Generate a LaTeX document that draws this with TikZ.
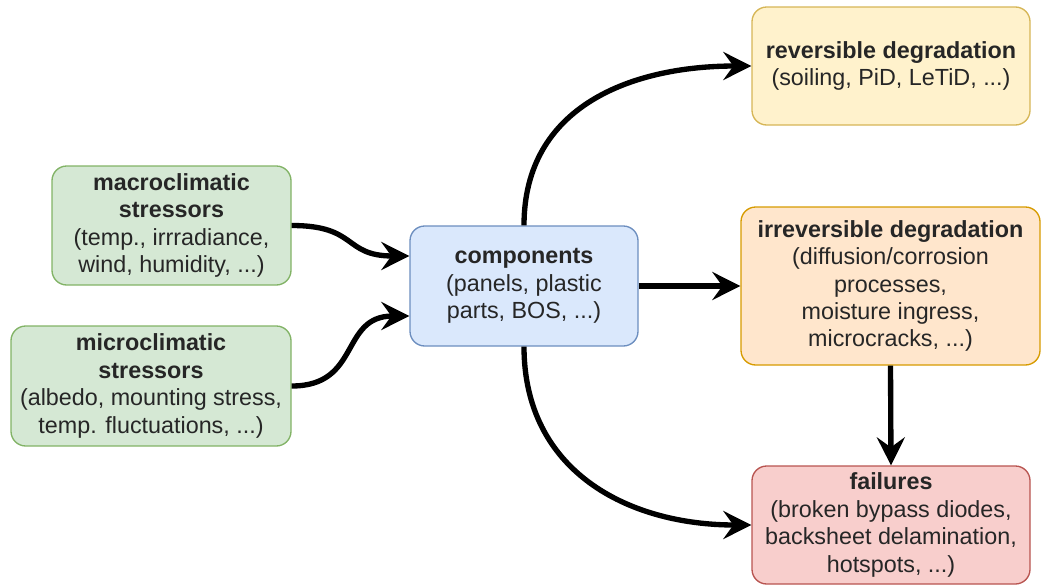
\documentclass[tikz,border=0pt]{standalone}
\usepackage{fontspec}
\setmainfont{Liberation Sans}
\usetikzlibrary{arrows.meta}

\definecolor{greenfill}{HTML}{D5E8D4}
\definecolor{greenline}{HTML}{82B366}
\definecolor{bluefill}{HTML}{DAE8FC}
\definecolor{blueline}{HTML}{6C8EBF}
\definecolor{yellowfill}{HTML}{FFF2CC}
\definecolor{yellowline}{HTML}{D6B656}
\definecolor{orangefill}{HTML}{FFE6CC}
\definecolor{orangeline}{HTML}{D79B00}
\definecolor{redfill}{HTML}{F8CECC}
\definecolor{redline}{HTML}{B85450}
\definecolor{textgray}{HTML}{262626}

\tikzset{every picture/.style={line width=0.75pt}}
\tikzset{
  box/.style={rounded corners=11pt, line width=1pt, align=center, inner sep=0pt,
    font=\fontsize{17.5}{20.6}\selectfont, text=textgray},
  conn/.style={line width=4pt, -{Stealth[length=21pt,width=21pt,inset=7.5pt]}},
}

\begin{document}
\begin{tikzpicture}[x=0.75pt,y=0.75pt,yscale=-1,xscale=1]
\useasboundingbox (0,0) rectangle (1045,586);

% Text Node
\node[box, draw=greenline, fill=greenfill, minimum width=179.25pt, minimum height=89.25pt] (macro) at (171.5,225.5)
  {\textbf{macroclimatic}\\\textbf{stressors}\\(temp., irrradiance,\\wind, humidity, ...)};
% Text Node
\node[box, draw=greenline, fill=greenfill, minimum width=210pt, minimum height=90pt] (micro) at (151,386)
  {\textbf{microclimatic}\\\textbf{stressors}\\(albedo, mounting stress,\\temp. fluctuations, ...)};
% Text Node
\node[box, draw=blueline, fill=bluefill, minimum width=171pt, minimum height=90pt] (comp) at (524,286)
  {\textbf{components}\\(panels, plastic\\parts, BOS, ...)};
% Text Node
\node[box, draw=yellowline, fill=yellowfill, minimum width=208.5pt, minimum height=88.5pt] (rev) at (891,66)
  {\textbf{reversible degradation}\\(soiling, PiD, LeTiD, ...)};
% Text Node
\node[box, draw=orangeline, fill=orangefill, minimum width=224.25pt, minimum height=118.5pt] (irrev) at (890.5,286)
  {\textbf{irreversible degradation}\\(diffusion/corrosion\\processes,\\moisture ingress,\\microcracks, ...)};
% Text Node
\node[box, draw=redline, fill=redfill, minimum width=208.5pt, minimum height=88.5pt] (fail) at (891,525)
  {\textbf{failures}\\(broken bypass diodes,\\backsheet delamination,\\hotspots, ...)};

% Connection
\draw[conn] (macro.east) to[out=0,in=180,looseness=1.4] ([yshift=-22.5pt]comp.west);
% Connection
\draw[conn] (micro.east) to[out=0,in=180,looseness=1.3] ([yshift=22.5pt]comp.west);
% Connection
\draw[conn] (comp.north) to[out=-90,in=180,looseness=1.1] (rev.west);
% Connection
\draw[conn] (comp.east) -- (irrev.west);
% Connection
\draw[conn] (comp.south) to[out=90,in=180,looseness=1.1] (fail.west);
% Connection
\draw[conn] (irrev.south) -- (fail.north);

\end{tikzpicture}
\end{document}
